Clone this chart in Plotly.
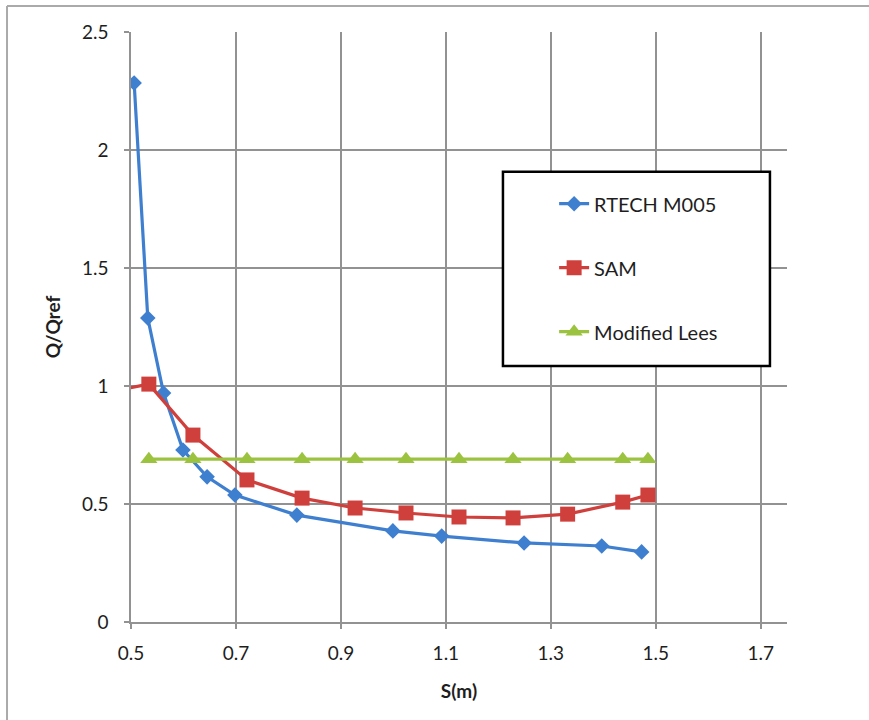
import plotly.graph_objects as go

# Spacing S (m) and normalised flow Q/Qref for each method
rtech_s = [0.506, 0.532, 0.562, 0.599, 0.645, 0.698, 0.816, 0.999, 1.092, 1.249, 1.397, 1.473]
rtech_q = [2.284, 1.288, 0.97, 0.729, 0.615, 0.538, 0.453, 0.386, 0.364, 0.335, 0.322, 0.297]

sam_s = [0.45, 0.534, 0.618, 0.721, 0.826, 0.927, 1.024, 1.125, 1.228, 1.332, 1.437, 1.485]
sam_q = [0.97, 1.008, 0.792, 0.602, 0.525, 0.483, 0.462, 0.445, 0.441, 0.457, 0.508, 0.538]

lees_s = [0.534, 0.618, 0.721, 0.826, 0.927, 1.024, 1.125, 1.228, 1.332, 1.437, 1.485]
lees_q = [0.69] * len(lees_s)

x_ticks = [0.5, 0.7, 0.9, 1.1, 1.3, 1.5, 1.7]
y_ticks = [0, 0.5, 1, 1.5, 2, 2.5]

BLUE = "#3f7fcf"
RED = "#cf403d"
GREEN = "#9cc33f"
GRID = "#929292"
TEXT = "#1e1e1e"
FONT = "Lato"

fig = go.Figure()
fig.add_trace(go.Scatter(
    x=rtech_s, y=rtech_q, name="RTECH M005", legendgroup="a",
    mode="lines+markers",
    line=dict(color=BLUE, width=3.2),
    marker=dict(symbol="diamond", size=12, color=BLUE),
))
fig.add_trace(go.Scatter(
    x=sam_s, y=sam_q, name="SAM", legendgroup="b",
    mode="lines+markers",
    line=dict(color=RED, width=3.2),
    marker=dict(symbol="square", size=15, color=RED),
))
fig.add_trace(go.Scatter(
    x=lees_s, y=lees_q, name="Modified Lees", legendgroup="c",
    mode="lines+markers",
    line=dict(color=GREEN, width=3.2),
    marker=dict(symbol="triangle-up", size=15, color=GREEN),
))

axis_common = dict(
    showgrid=True, gridcolor=GRID, gridwidth=1.5,
    showline=True, linecolor=GRID, linewidth=1.5,
    ticks="outside", ticklen=5, tickcolor=GRID, tickwidth=1.5,
    zeroline=False,
    tickfont=dict(family=FONT, size=19, color=TEXT),
)

fig.update_xaxes(
    range=[0.5, 1.75], tickvals=x_ticks, ticktext=[str(v) for v in x_ticks],
    ticklabelstandoff=8,
    title=dict(text="<b>S(m)</b>", font=dict(family=FONT, size=19, color=TEXT), standoff=22),
    **axis_common,
)
fig.update_yaxes(
    range=[0, 2.5], tickvals=y_ticks, ticktext=[str(v) for v in y_ticks],
    ticklabelstandoff=12,
    title=dict(text="<b>Q/Qref</b>", font=dict(family=FONT, size=19, color=TEXT), standoff=16),
    **axis_common,
)

# Legend frame and outer chart frame
fig.add_shape(type="rect", xref="paper", yref="paper",
              x0=0.567, x1=0.974, y0=0.434, y1=0.763,
              line=dict(color="black", width=2.5), fillcolor="white", layer="above")
fig.add_shape(type="line", xref="paper", yref="paper",
              x0=-0.189, x1=1.2, y0=1.044, y1=1.044,
              line=dict(color="#aaaaaa", width=2))
fig.add_shape(type="line", xref="paper", yref="paper",
              x0=-0.189, x1=-0.189, y0=1.044, y1=-0.2,
              line=dict(color="#aaaaaa", width=2))

fig.update_layout(
    width=869, height=720,
    margin=dict(l=131, r=82, t=32, b=98),
    paper_bgcolor="white", plot_bgcolor="white",
    font=dict(family=FONT, size=19, color=TEXT),
    legend=dict(
        x=0.645, y=0.742, xanchor="left", yanchor="top",
        bgcolor="rgba(0,0,0,0)", borderwidth=0,
        tracegroupgap=35,
        font=dict(family=FONT, size=20, color=TEXT),
    ),
)

fig.write_html("out.html")
